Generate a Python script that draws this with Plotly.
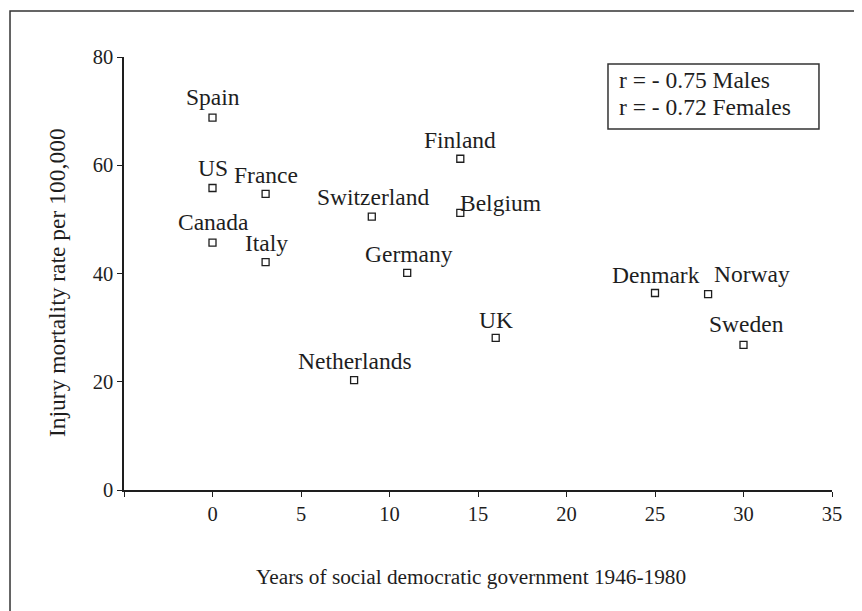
import plotly.graph_objects as go

countries = ["Spain", "US", "France", "Canada", "Italy", "Switzerland", "Germany",
             "Finland", "Belgium", "Netherlands", "UK", "Denmark", "Norway", "Sweden"]
years_socdem = [0, 0, 3, 0, 3, 9, 11, 14, 14, 8, 16, 25, 28, 30]
injury_rate = [68.8, 55.8, 54.7, 45.7, 42.1, 50.5, 40.1, 61.2, 51.2, 20.3, 28.1, 36.4, 36.2, 26.8]

x_ticks = [-5, 0, 5, 10, 15, 20, 25, 30, 35]
x_ticktext = ["", "0", "5", "10", "15", "20", "25", "30", "35"]
y_ticks = [0, 20, 40, 60, 80]
corr_lines = ["r = - 0.75 Males", "r = - 0.72 Females"]

# label placement (pixel shifts from each marker), layout only
label_shift = {
    "Spain": (0, 21), "US": (0, 20), "France": (0, 19), "Canada": (1, 21),
    "Italy": (1, 19), "Switzerland": (1, 20), "Germany": (2, 19), "Finland": (0, 19),
    "Belgium": (40, 10), "Netherlands": (1, 19), "UK": (0, 18), "Denmark": (1, 18),
    "Norway": (44, 20), "Sweden": (3, 21),
}

FONT = "Liberation Serif, Times New Roman, serif"
INK = "#1e1e1e"

fig = go.Figure()
fig.add_trace(go.Scatter(
    x=years_socdem, y=injury_rate, mode="markers",
    marker=dict(symbol="square-open", size=7, color=INK, line=dict(width=1.3, color=INK)),
    hoverinfo="text", text=countries, showlegend=False,
))

annotations = []
for c, xv, yv in zip(countries, years_socdem, injury_rate):
    dx, dy = label_shift[c]
    annotations.append(dict(x=xv, y=yv, xref="x", yref="y", text=c, showarrow=False,
                            xshift=dx, yshift=dy, font=dict(family=FONT, size=23.5, color=INK)))

# correlation box text
annotations.append(dict(x=0.6963, y=0.9469, xref="paper", yref="paper", text=corr_lines[0],
                        showarrow=False, xanchor="left", yanchor="middle",
                        font=dict(family=FONT, size=23.5, color=INK)))
annotations.append(dict(x=0.6963, y=0.8845, xref="paper", yref="paper", text=corr_lines[1],
                        showarrow=False, xanchor="left", yanchor="middle",
                        font=dict(family=FONT, size=23.5, color=INK)))
# axis titles
annotations.append(dict(x=0.49, y=-0.201, xref="paper", yref="paper",
                        text="Years of social democratic government 1946-1980",
                        showarrow=False, xanchor="center", yanchor="middle",
                        font=dict(family=FONT, size=21.3, color=INK)))
annotations.append(dict(x=-0.0946, y=0.478, xref="paper", yref="paper",
                        text="Injury mortality rate per 100,000", textangle=-90,
                        showarrow=False, xanchor="center", yanchor="middle",
                        font=dict(family=FONT, size=23.5, color=INK)))

shapes = [
    dict(type="rect", xref="paper", yref="paper", x0=-0.161, x1=1.3, y0=-0.6, y1=1.106,
         line=dict(color="#333333", width=1.5)),
    dict(type="rect", xref="paper", yref="paper", x0=0.6836, x1=0.9816, y0=0.8337, y1=0.9838,
         line=dict(color="#333333", width=1.5)),
]

fig.update_layout(
    width=854, height=603,
    margin=dict(l=116, r=30, t=49, b=121),
    paper_bgcolor="white", plot_bgcolor="white",
    font=dict(family=FONT, size=20, color=INK),
    annotations=annotations, shapes=shapes,
    xaxis=dict(range=[-5, 35], tickvals=x_ticks, ticktext=x_ticktext,
               showgrid=False, zeroline=False, showline=True, linecolor=INK, linewidth=1.5,
               ticks="outside", ticklen=5, tickcolor=INK, tickwidth=1.2,
               tickfont=dict(family=FONT, size=20.5, color=INK)),
    yaxis=dict(range=[0, 80], tickvals=y_ticks,
               showgrid=False, zeroline=False, showline=True, linecolor=INK, linewidth=1.5,
               ticks="outside", ticklen=5, tickcolor=INK, tickwidth=1.2,
               tickfont=dict(family=FONT, size=20.5, color=INK)),
)

fig.write_html("out.html")
